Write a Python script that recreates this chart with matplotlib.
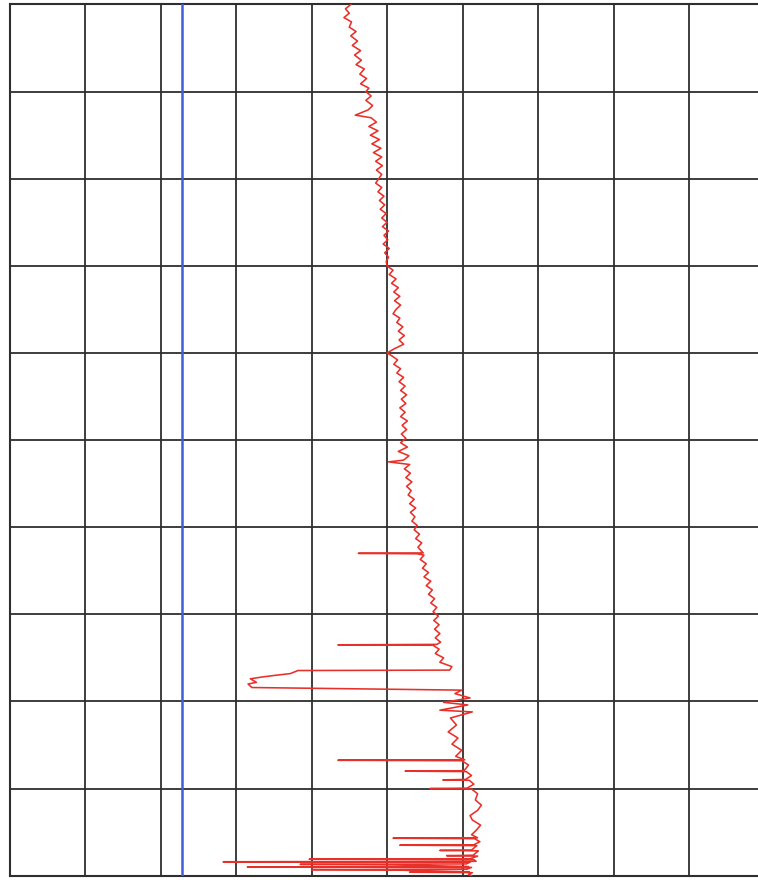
import matplotlib
matplotlib.use("Agg")
import matplotlib.pyplot as plt
import numpy as np

# Depth track (depth in track units, 0 = top, 100 = bottom; 10 per grid row)
depth = [
    0, 0.5, 1.0, 1.5, 2.0, 2.6, 3.1, 3.6, 4.2, 4.7, 5.3, 5.8, 6.4, 6.9, 7.4, 8.0, 8.5, 9.1, 9.6, 10.0,
    10.5, 11.0, 11.6, 12.1, 12.7, 13.0, 13.5, 14.0, 14.5, 15.0, 15.5, 16.0, 16.5, 17.0, 17.5, 18.0, 18.5, 19.0, 19.5, 20.0,
    20.5, 21, 21.5, 22, 22.5, 23, 23.5, 24, 24.5, 25, 25.5, 26, 26.5, 27, 27.5, 28, 28.5, 29, 29.5, 30,
    30.5, 31, 31.5, 32, 32.5, 33, 33.5, 34, 34.5, 35, 35.5, 36, 36.5, 37, 37.5, 38, 38.5, 39, 39.5, 40, 40.3,
    40.8, 41.3, 41.8, 42.3, 42.8, 43.3, 43.8, 44.3, 44.8, 45.3, 45.8, 46.3, 46.8, 47.3, 47.8, 48.3, 48.8, 49.3, 49.8,
    50.3, 50.8, 51.3, 51.8, 52.3, 52.5, 52.8, 53.3, 53.8, 54.3, 54.8, 55.3, 55.8, 56.3, 56.8, 57.3, 57.8, 58.3, 58.8, 59.3, 59.8,
    60.3, 60.8, 61.3, 61.8, 62.3, 62.95, 63.0, 63.05, 63.2, 63.7, 64.2, 64.7, 65.2, 65.7, 66.2, 66.7, 67.2, 67.7, 68.2, 68.7, 69.2, 69.7,
    70.2, 70.7, 71.2, 71.7, 72.2, 72.7, 73.2, 73.45, 73.5, 73.55, 74.0, 74.5, 75.0, 75.5, 76.0, 76.4, 76.45,
    76.8, 77.0, 77.2, 77.4, 77.8, 78.0, 78.4, 78.7,
    79.1, 79.6, 80.1, 80.4, 81.0, 81.2, 81.9, 82.7, 83.5, 84.2, 84.9, 85.6, 86.3, 86.7, 86.75, 86.8,
    87.3, 87.95, 88.0, 88.05, 88.5, 88.95, 89.0, 89.05, 89.5, 89.95, 90.0, 90.05,
    90.6, 91.3, 91.9, 92.5, 93.1, 93.6, 94.2, 94.8, 95.3, 95.65, 95.7, 95.75,
    96.1, 96.45, 96.5, 96.55, 97.05, 97.1, 97.15, 97.65, 97.7, 97.75, 98.05, 98.1, 98.15, 98.35, 98.4, 98.45,
    98.65, 98.7, 98.75, 98.95, 99.0, 99.05, 99.25, 99.3, 99.35, 99.55, 99.6, 99.65, 99.85, 100.0,
]

# Red log curve values (track units, 10 per grid column)
red_curve = [
    45.2, 44.5, 45.0, 44.3, 45.3, 45.0, 45.9, 45.2, 46.1, 45.4, 46.5, 45.7, 46.6, 45.9, 47.0, 46.4, 47.3, 46.5, 47.6, 47.2,
    47.9, 47.2, 48.1, 47.5, 45.8, 47.9, 48.6, 47.6, 48.8, 47.8, 49.0, 48.0, 49.2, 48.2, 49.3, 48.5, 49.4, 48.6, 49.3, 48.9,
    48.5, 49.3, 48.8, 49.6, 49.0, 49.7, 49.1, 49.9, 49.3, 50.0, 49.4, 50.2, 49.6, 50.1, 49.5, 50.3, 49.7, 50.2, 49.9, 50.0,
    50.8, 50.3, 51.2, 50.6, 51.5, 50.9, 51.7, 51.0, 51.8, 51.2, 50.8, 51.7, 51.3, 52.1, 51.5, 52.3, 51.6, 52.2, 51.0, 50.0, 50.6,
    51.4, 50.9, 51.8, 51.3, 52.2, 51.6, 52.4, 51.8, 52.6, 51.9, 52.5, 51.7, 52.4, 51.8, 52.7, 52.0, 52.6, 51.9, 52.5,
    51.8, 52.7, 51.5, 52.9, 52.2, 50.2, 53.0, 52.3, 53.1, 52.5, 53.3, 52.6, 53.2, 52.8, 53.6, 53.0, 53.8, 53.1, 53.7, 53.3, 54.0,
    53.6, 54.3, 53.8, 54.6, 54.1, 54.8, 46.2, 54.0, 54.9, 54.4, 55.2, 54.7, 55.5, 54.9, 55.8, 55.2, 56.0, 55.5, 56.3, 55.8, 56.6, 56.1,
    56.8, 56.2, 56.9, 56.3, 57.0, 56.4, 57.1, 56.6, 43.5, 56.1, 56.9, 56.4, 57.5, 57.0, 58.6, 58.3, 38.2,
    37.2, 35.2, 33.4, 31.9, 32.7, 31.6, 32.1, 59.9,
    59.0, 61.0, 57.5, 60.7, 57.0, 61.3, 58.4, 59.2, 58.1, 59.4, 58.6, 59.9, 59.1, 60.3, 43.5, 59.9,
    60.8, 60.2, 52.4, 60.5, 61.2, 60.4, 57.4, 60.9, 61.5, 60.6, 55.7, 61.2,
    62.0, 61.7, 62.5, 62.0, 61.0, 61.3, 62.4, 61.8, 61.2, 62.0, 50.8, 61.6,
    62.3, 61.5, 51.7, 61.9, 61.2, 57.0, 62.1, 61.4, 57.9, 62.0, 61.0, 39.7, 61.5, 61.8, 28.3, 61.0,
    60.5, 38.5, 50.8, 60.8, 31.5, 61.2, 60.6, 40.0, 51.0, 60.9, 53.0, 61.3, 60.8, 61.2,
]

blue_curve_value = 22.8          # constant blue reference curve
x_ticks = list(range(0, 101, 10))
y_ticks = list(range(0, 101, 10))

fig = plt.figure(figsize=(7.58, 8.80), dpi=100)
fig.patch.set_facecolor("white")
ax = fig.add_axes([9.5 / 758, 4.3 / 880, 755 / 758, 871.2 / 880])
ax.set_facecolor("white")

ax.set_xlim(0, 100)
ax.set_ylim(100, 0)
ax.set_xticks(x_ticks)
ax.set_yticks(y_ticks)
ax.tick_params(left=False, bottom=False, labelleft=False, labelbottom=False)
ax.grid(True, color="#2e2e2e", linewidth=1.3)
for s in ax.spines.values():
    s.set_color("#2e2e2e")
    s.set_linewidth(1.5)

ax.axvline(blue_curve_value, color="#3d5fd6", linewidth=1.8, zorder=3)
ax.plot(red_curve, depth, color="#e8302a", linewidth=1.15, zorder=4)

fig.savefig("out.png", dpi=100, facecolor="white")
